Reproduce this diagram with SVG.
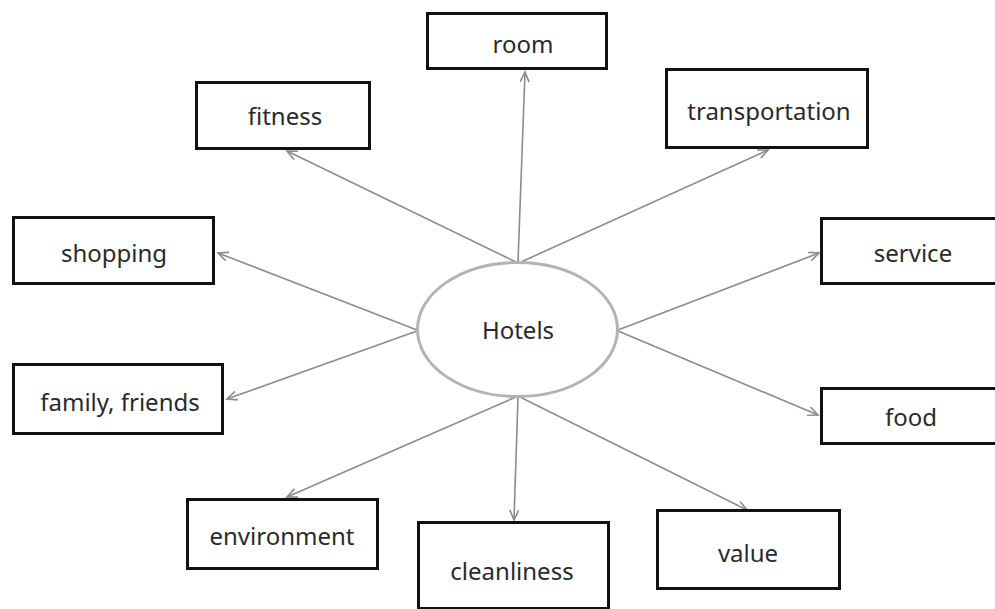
<svg xmlns="http://www.w3.org/2000/svg" width="995" height="609" viewBox="0 0 995 609">
  <defs>
    <style>
      .box { fill: #ffffff; stroke: #111111; stroke-width: 3; }
      .hub { fill: #ffffff; stroke: #b3b3b3; stroke-width: 3; }
      .label { font-family: "Noto Sans", "Open Sans", sans-serif; font-size: 24px; fill: #2a2a2a; text-anchor: middle; }
      .link { fill: none; stroke: #8c8c8c; stroke-width: 1.6; marker-end: url(#arrow); }
    </style>
    <marker id="arrow" markerUnits="userSpaceOnUse" markerWidth="14" markerHeight="12" refX="11" refY="5" orient="auto">
      <path d="M1,0.5 L11,5 L1,9.5" fill="none" stroke="#8c8c8c" stroke-width="1.6"/>
    </marker>
  </defs>

  <rect width="995" height="609" fill="#ffffff"/>

  <!-- connectors from the hub out to each topic -->
  <g id="connectors">
    <line class="link" x1="518" y1="262" x2="525" y2="72"/>
    <line class="link" x1="516" y1="262" x2="287" y2="151"/>
    <line class="link" x1="521" y1="262" x2="768" y2="150"/>
    <line class="link" x1="417" y1="330" x2="218" y2="253"/>
    <line class="link" x1="417" y1="331" x2="227" y2="399"/>
    <line class="link" x1="618" y1="330" x2="819" y2="253"/>
    <line class="link" x1="618" y1="331" x2="818" y2="415"/>
    <line class="link" x1="516" y1="397" x2="287" y2="497"/>
    <line class="link" x1="518" y1="397" x2="514" y2="520"/>
    <line class="link" x1="520" y1="397" x2="747" y2="510"/>
  </g>

  <g id="hotels">
    <ellipse class="hub" cx="517.5" cy="329.5" rx="100" ry="67"/>
    <text class="label" x="518" y="339">Hotels</text>
  </g>

  <g id="room">
    <rect class="box" x="427.5" y="13.5" width="179" height="55"/>
    <text class="label" x="523" y="53">room</text>
  </g>

  <g id="fitness">
    <rect class="box" x="196.5" y="82.5" width="173" height="66"/>
    <text class="label" x="285" y="125">fitness</text>
  </g>

  <g id="transportation">
    <rect class="box" x="666.5" y="69.5" width="201" height="78"/>
    <text class="label" x="769" y="120">transportation</text>
  </g>

  <g id="service">
    <rect class="box" x="821.5" y="218.5" width="190" height="65"/>
    <text class="label" x="913" y="262">service</text>
  </g>

  <g id="shopping">
    <rect class="box" x="13.5" y="217.5" width="200" height="66"/>
    <text class="label" x="114" y="262">shopping</text>
  </g>

  <g id="family-friends">
    <rect class="box" x="13.5" y="364.5" width="209" height="69"/>
    <text class="label" x="120" y="411">family, friends</text>
  </g>

  <g id="food">
    <rect class="box" x="821.5" y="388.5" width="190" height="55"/>
    <text class="label" x="911" y="426">food</text>
  </g>

  <g id="environment">
    <rect class="box" x="187.5" y="499.5" width="190" height="69"/>
    <text class="label" x="282" y="545">environment</text>
  </g>

  <g id="cleanliness">
    <rect class="box" x="418.5" y="522.5" width="190" height="86"/>
    <text class="label" x="512" y="580">cleanliness</text>
  </g>

  <g id="value">
    <rect class="box" x="657.5" y="510.5" width="182" height="78"/>
    <text class="label" x="748" y="562">value</text>
  </g>
</svg>
